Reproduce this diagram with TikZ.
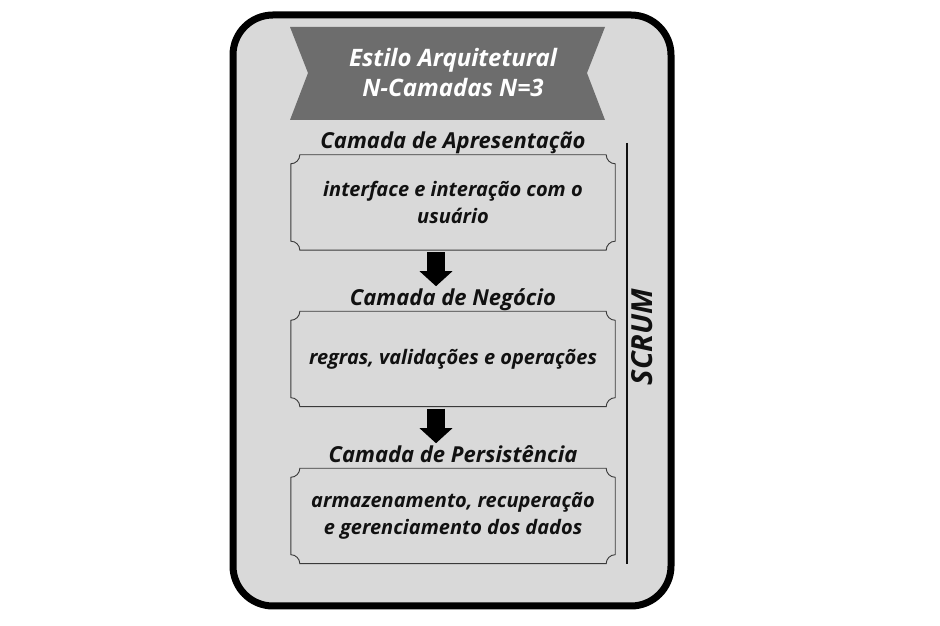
\documentclass[tikz,border=0pt]{standalone}
\usepackage{fontspec}
\setmainfont{Open Sans}
\usetikzlibrary{positioning,arrows.meta}
\definecolor{panelgray}{HTML}{D9D9D9}
\definecolor{bannergray}{HTML}{6D6D6D}
\definecolor{edgegray}{HTML}{3A3A3A}
\definecolor{inkblack}{HTML}{111111}

\begin{document}
\begin{tikzpicture}[x=1pt,y=1pt,
  layer/.style={minimum width=324pt, minimum height=95pt, inner sep=0pt, align=center, text=inkblack,
    font=\fontsize{20}{27}\selectfont\bfseries\itshape},
  layertitle/.style={inner sep=2pt, text=inkblack, font=\fontsize{22}{25}\selectfont\bfseries\itshape},
  layerline/.style={draw=edgegray, line width=0.9pt},
  flow/.style={line width=18pt, -{Triangle[width=32pt,length=15pt]}}]
  \useasboundingbox (0,0) rectangle (940,626);

  % outer panel
  \draw[line width=7pt, rounded corners=40pt, fill=panelgray] (233,20) rectangle (671,611);

  % banner
  \fill[bannergray] (290,599) -- (605,599) -- (587,553) -- (605,506) -- (290,506) -- (308,553) -- cycle;
  \node[text=white, align=center, font=\fontsize{24}{30}\selectfont\bfseries\itshape] (estilo) at (453,553)
    {Estilo Arquitetural\\N-Camadas N=3};

  % layers
  \node[layer] (apres) at (453,423.5) {interface e interação com o\\usuário};
  \node[layer] (negocio) at (453,267) {regras, validações e operações};
  \node[layer] (persist) at (453,110) {armazenamento, recuperação\\e gerenciamento dos dados};

  \node[layertitle, above=6pt of apres, anchor=base] (apres-t) {Camada de Apresentação};
  \node[layertitle, above=6pt of negocio, anchor=base] (negocio-t) {Camada de Negócio};
  \node[layertitle, above=6pt of persist, anchor=base] (persist-t) {Camada de Persistência};

  % box outlines with concave corners
  \foreach \b in {apres,negocio,persist}
    \draw[layerline] ([yshift=-9pt]\b.north west) arc[start angle=270, end angle=360, radius=9pt]
      -- ([xshift=-9pt]\b.north east) arc[start angle=180, end angle=270, radius=9pt]
      -- ([yshift=9pt]\b.south east) arc[start angle=90, end angle=180, radius=9pt]
      -- ([xshift=9pt]\b.south west) arc[start angle=0, end angle=90, radius=9pt] -- cycle;

  % arrows
  \draw[flow, shorten <=2pt] ([xshift=-17pt]apres.south) -- ([xshift=-17pt]negocio-t.north);
  \draw[flow, shorten <=2pt] ([xshift=-17pt]negocio.south) -- ([xshift=-17pt]persist-t.north);

  % scrum bar
  \coordinate (scrumtop) at (627,483);
  \coordinate (scrumbot) at (627,62);
  \draw[line width=2.5pt, inkblack] (scrumtop) -- (scrumbot);
  \node[rotate=90, text=inkblack, font=\fontsize{29}{32}\selectfont\bfseries\itshape] (scrum) at (642,289) {SCRUM};
\end{tikzpicture}
\end{document}
